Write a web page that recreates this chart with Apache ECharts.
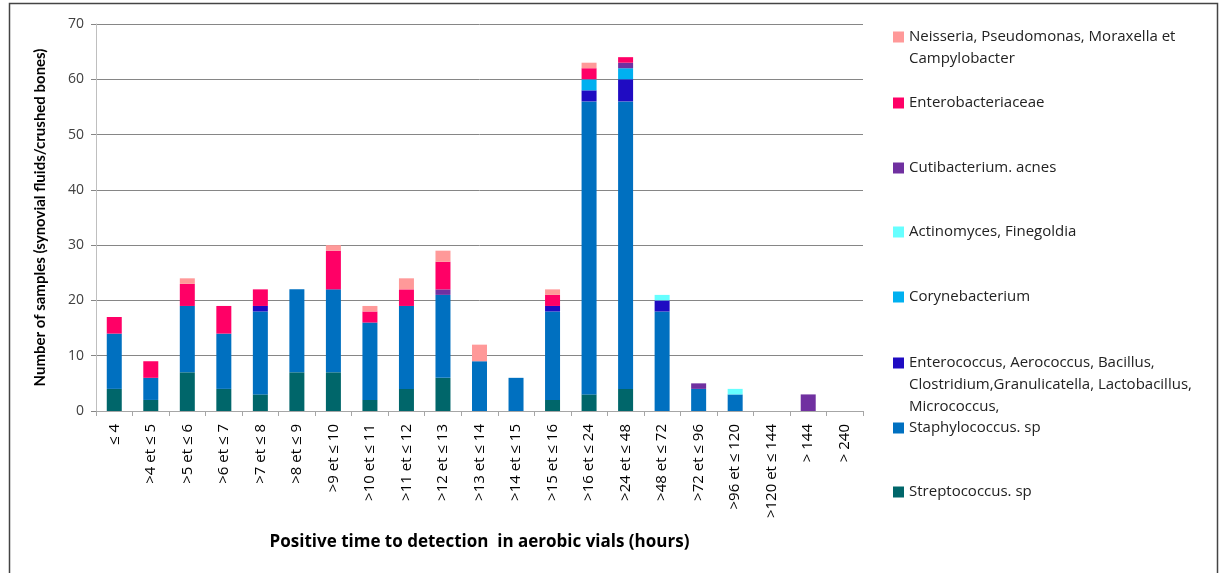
<!DOCTYPE html>
<html>
<head>
<meta charset="utf-8">
<script src="https://cdn.jsdelivr.net/npm/echarts@6/dist/echarts.min.js"></script>
<style>
  html, body { margin: 0; padding: 0; background: #fff; }
  #chart { width: 1219px; height: 573px; }
</style>
</head>
<body>
<div id="chart"></div>
<script>
// categories (time to detection)
const categories = [
  "≤ 4", ">4 et ≤ 5", ">5 et ≤ 6", ">6 et ≤ 7", ">7 et ≤ 8", ">8 et ≤ 9",
  ">9 et ≤ 10", ">10 et ≤ 11", ">11 et ≤ 12", ">12 et ≤ 13", ">13 et ≤ 14",
  ">14 et ≤ 15", ">15 et ≤ 16", ">16 et ≤ 24", ">24 et ≤ 48", ">48 et ≤ 72",
  ">72 et ≤ 96", ">96 et ≤ 120", ">120 et ≤ 144", "> 144", "> 240"
]

// values per group, bottom of stack first
const strepto = [4, 2, 7, 4, 3, 7, 7, 2, 4, 6, 0, 0, 2, 3, 4, 0, 0, 0, 0, 0, 0]
const staphylo = [10, 4, 12, 10, 15, 15, 15, 14, 15, 15, 9, 6, 16, 53, 52, 18, 4, 3, 0, 0, 0]
const enterococcus = [0, 0, 0, 0, 1, 0, 0, 0, 0, 0, 0, 0, 1, 2, 4, 2, 0, 0, 0, 0, 0]
const coryne = [0, 0, 0, 0, 0, 0, 0, 0, 0, 0, 0, 0, 0, 2, 2, 0, 0, 0, 0, 0, 0]
const actino = [0, 0, 0, 0, 0, 0, 0, 0, 0, 0, 0, 0, 0, 0, 0, 1, 0, 1, 0, 0, 0]
const cuti = [0, 0, 0, 0, 0, 0, 0, 0, 0, 1, 0, 0, 0, 0, 1, 0, 1, 0, 0, 3, 0]
const enterobact = [3, 3, 4, 5, 3, 0, 7, 2, 3, 5, 0, 0, 2, 2, 1, 0, 0, 0, 0, 0, 0]
const neisseria = [0, 0, 1, 0, 0, 0, 1, 1, 2, 2, 3, 0, 1, 1, 0, 0, 0, 0, 0, 0, 0]

const yTicks = [0, 10, 20, 30, 40, 50, 60, 70]

const FONT = "'Open Sans', Lato, sans-serif"

// name, data, colour, legend marker y, wrapped label lines
const groups = [
  ["Streptococcus. sp", strepto, "#00666A", 492, ["Streptococcus. sp"]],
  ["Staphylococcus. sp", staphylo, "#0070C0", 428, ["Staphylococcus. sp"]],
  ["Enterococcus, Aerococcus, Bacillus, Clostridium,Granulicatella, Lactobacillus, Micrococcus,", enterococcus, "#1F0BC2", 363,
    ["Enterococcus, Aerococcus, Bacillus,", "Clostridium,Granulicatella, Lactobacillus,", "Micrococcus,"]],
  ["Corynebacterium", coryne, "#00B0F0", 297, ["Corynebacterium"]],
  ["Actinomyces, Finegoldia", actino, "#66FFFF", 232, ["Actinomyces, Finegoldia"]],
  ["Cutibacterium. acnes", cuti, "#7030A0", 168, ["Cutibacterium. acnes"]],
  ["Enterobacteriaceae", enterobact, "#FF0066", 103, ["Enterobacteriaceae"]],
  ["Neisseria, Pseudomonas, Moraxella et Campylobacter", neisseria, "#FF9999", 37,
    ["Neisseria, Pseudomonas, Moraxella et", "Campylobacter"]],
]

const LH = 22

const series = groups.map(g => ({
  name: g[0],
  type: "bar",
  stack: "total",
  data: g[1],
  barWidth: 15,
  itemStyle: { color: g[2] },
}))

// one legend per entry so the spacing follows the picture;
// blank lines on top keep the marker beside the first line
const legends = groups.map(g => {
  const lines = g[4]
  const pad = lines.length - 1
  const text = Array(pad).fill("").concat(lines).join("\n")
  const n = pad + lines.length
  return {
    data: [g[0]],
    left: 893,
    top: g[3] - (n * LH) / 2,
    padding: 0,
    orient: "vertical",
    itemWidth: 11,
    itemHeight: 11,
    icon: "rect",
    selectedMode: false,
    formatter: () => text,
    textStyle: {
      fontFamily: FONT,
      fontSize: 15,
      color: "#222",
      lineHeight: LH,
    },
  }
})

const chart = echarts.init(document.getElementById("chart"))
chart.setOption({
  animation: false,
  color: groups.map(g => g[2]),
  grid: { left: 96, right: 356, top: 24, bottom: 162, containLabel: false },
  legend: legends,
  graphic: [{
    type: "rect",
    shape: { x: 9.5, y: 3.5, width: 1208, height: 572 },
    style: { fill: "none", stroke: "#444", lineWidth: 1.5 },
    silent: true,
  }],
  xAxis: {
    type: "category",
    data: categories,
    name: "Positive time to detection  in aerobic vials (hours)",
    nameLocation: "middle",
    nameGap: 123,
    nameTextStyle: { fontFamily: FONT, fontSize: 17, fontWeight: "bold", color: "#000" },
    axisLine: { lineStyle: { color: "#A6A6A6", width: 1 } },
    axisTick: { show: true, length: 5, lineStyle: { color: "#A6A6A6" } },
    axisLabel: {
      rotate: 90,
      interval: 0,
      margin: 13,
      fontFamily: FONT,
      fontSize: 15,
      color: "#000",
    },
  },
  yAxis: {
    type: "value",
    min: 0,
    max: yTicks[yTicks.length - 1],
    interval: 10,
    name: "Number of samples (synovial fluids/crushed bones)",
    nameLocation: "middle",
    nameGap: 48,
    nameRotate: 90,
    nameTextStyle: { fontFamily: "Lato, sans-serif", fontSize: 15, fontWeight: "bold", color: "#000" },
    axisLine: { show: true, lineStyle: { color: "#BFBFBF" } },
    axisTick: { show: true, length: 5, lineStyle: { color: "#868686" } },
    axisLabel: { fontFamily: FONT, fontSize: 14, color: "#404040", margin: 12 },
    splitLine: { lineStyle: { color: "#868686", width: 1 } },
  },
  series: series,
})
</script>
</body>
</html>
